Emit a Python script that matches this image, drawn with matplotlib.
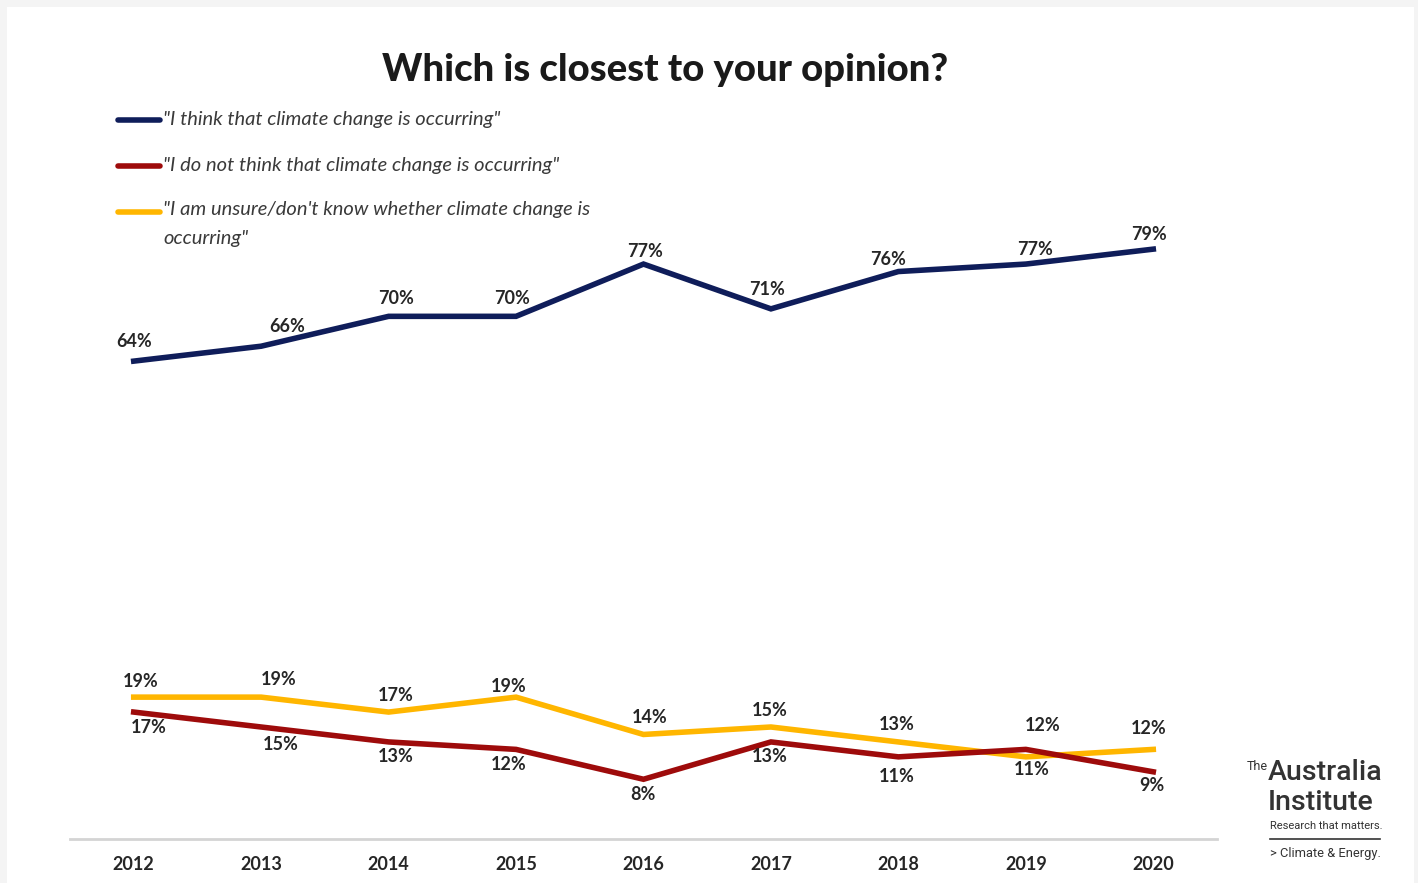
import matplotlib
matplotlib.use("Agg")
import matplotlib.pyplot as plt
from matplotlib.patches import Rectangle
from matplotlib.lines import Line2D

years = [2012, 2013, 2014, 2015, 2016, 2017, 2018, 2019, 2020]
occurring = [64, 66, 70, 70, 77, 71, 76, 77, 79]
not_occurring = [17, 15, 13, 12, 8, 13, 11, 12, 9]
unsure = [19, 19, 17, 19, 14, 15, 13, 11, 12]

labels = [
    '"I think that climate change is occurring"',
    '"I do not think that climate change is occurring"',
    '"I am unsure/don\'t know whether climate change is\noccurring"',
]

NAVY = "#0f1d5a"
RED = "#9e0b0b"
GOLD = "#ffb600"
TXT = "#262626"

# label nudges in pixels (dx, dy) so the numbers sit clear of the lines
off_occ = [(0, 20), (26, 20), (7, 18), (-4, 18), (2, 13), (-4, 19), (-10, 12), (9, 15), (-4, 15)]
off_not = [(15, -15), (20, -17), (7, -15), (-7, -15), (-1, -15), (-1, -15), (-2, -20), (17, 24), (-1, -14)]
off_uns = [(7, 16), (18, 18), (7, 17), (-7, 11), (6, 17), (-1, 17), (-2, 17), (6, -13), (-5, 21)]

W, H = 1418, 883
fig = plt.figure(figsize=(W / 100, H / 100), dpi=100)
fig.patch.set_facecolor("#f4f4f4")
fig.patches.append(Rectangle((7 / W, 0), (1414 - 7) / W, 1 - 7 / H,
                             transform=fig.transFigure, facecolor="white",
                             edgecolor="none", zorder=-10))

ax = fig.add_axes([70 / W, 1 - 839 / H, (1217 - 70) / W, (839 - 167) / H])
ax.set_facecolor("none")
ax.set_xlim(2011.5, 2020.5)
ax.set_ylim(0, 90)

LW = 4.0
ax.plot(years, occurring, color=NAVY, lw=LW, solid_joinstyle="miter", zorder=3)
ax.plot(years, not_occurring, color=RED, lw=LW, solid_joinstyle="miter", zorder=3)
ax.plot(years, unsure, color=GOLD, lw=LW, solid_joinstyle="miter", zorder=2)

for series, offs in ((occurring, off_occ), (not_occurring, off_not), (unsure, off_uns)):
    for x, v, (dx, dy) in zip(years, series, offs):
        ax.annotate(f"{v}%", (x, v), xytext=(dx, dy), textcoords="offset pixels",
                    ha="center", va="center", fontsize=13, fontweight="bold",
                    family=["Lato", "DejaVu Sans"], color=TXT, zorder=4)

for s in ("top", "left", "right"):
    ax.spines[s].set_visible(False)
ax.spines["bottom"].set_color("#d4d4d4")
ax.spines["bottom"].set_linewidth(2)
ax.set_yticks([])
ax.set_xticks(years)
ax.set_xticklabels([str(y) for y in years], fontsize=13, fontweight="bold",
                   family=["Lato", "DejaVu Sans"], color=TXT)
ax.tick_params(axis="x", length=0, pad=12)

fig.text(665 / W, 1 - 70 / H, "Which is closest to your opinion?", ha="center", va="center",
         fontsize=27.5, fontweight="black", family=["Lato", "DejaVu Sans"], color="#1a1a1a")

# legend drawn by hand so the third entry can wrap
for i, (lab, col) in enumerate(zip(labels, (NAVY, RED, GOLD))):
    yy = 1 - (120 + 46 * i) / H
    fig.add_artist(Line2D([118 / W, 160 / W], [yy, yy], color=col, lw=LW,
                          solid_capstyle="round", transform=fig.transFigure))
    if "\n" in lab:
        fig.text(163 / W, yy + 11 / H, lab, ha="left", va="top", fontsize=14.5,
                 style="italic", family=["Lato", "DejaVu Sans"], color="#3a3a3a",
                 linespacing=1.85)
    else:
        fig.text(163 / W, yy, lab, ha="left", va="center", fontsize=14.5,
                 style="italic", family=["Lato", "DejaVu Sans"], color="#3a3a3a")

# logo block
logo = "#333333"
cond = ["Roboto", "DejaVu Sans"]
fig.text(1268 / W, 1 - 767 / H, "The", ha="right", va="center", fontsize=9,
         family=cond, color=logo)
fig.text(1268 / W, 1 - 773 / H, "Australia", ha="left", va="center", fontsize=20.5,
         fontweight="medium", family=cond, color=logo)
fig.text(1268 / W, 1 - 803 / H, "Institute", ha="left", va="center", fontsize=20.5,
         fontweight="medium", family=cond, color=logo)
fig.text(1270 / W, 1 - 826 / H, "Research that matters.", ha="left", va="center", fontsize=8,
         family=cond, color=logo)
fig.add_artist(Line2D([1270 / W, 1380 / W], [1 - 839 / H, 1 - 839 / H], color=logo, lw=1.2,
                      transform=fig.transFigure))
fig.text(1270 / W, 1 - 853 / H, "> Climate & Energy.", ha="left", va="center", fontsize=9.3,
         family=cond, color=logo)

fig.savefig("out.png", dpi=100, facecolor=fig.get_facecolor())
